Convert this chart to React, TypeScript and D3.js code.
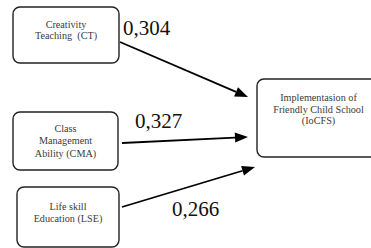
import { useEffect, useRef } from "react";
import * as d3 from "d3";

const sourceLabels: string[][] = [
  ["Creativity", "Teaching  (CT)"],
  ["Class", "Management", "Ability (CMA)"],
  ["Life skill", "Education (LSE)"],
];
const targetLabel: string[] = ["Implementasion of", "Friendly Child School", "(IoCFS)"];
const coefficients: string[] = ["0,304", "0,327", "0,266"];

const W = 371;
const H = 248;

// layout of the boxes and arrows (pixels)
const sourceBoxes = [
  { x: 13, y: 7, w: 106, h: 56, textY: 28, lh: 11 },
  { x: 13, y: 112, w: 105, h: 58, textY: 132, lh: 12.3 },
  { x: 17, y: 187, w: 102, h: 60, textY: 210, lh: 12 },
];
const targetBox = { x: 257, y: 79, w: 140, h: 78, textY: 101, lh: 11.5 };
const arrows = [
  { from: [120, 42], to: [248, 97] },
  { from: [122, 143], to: [248, 137] },
  { from: [122, 207], to: [255, 167] },
];
const labelPos = [
  [123, 35],
  [135, 128],
  [172, 216],
];

const App = () => {
  const svgRef = useRef<SVGSVGElement>(null);

  useEffect(() => {
    if (!svgRef.current) return;
    const svg = d3.select(svgRef.current);
    svg.selectAll("*").remove();

    const font = "Liberation Serif";

    const drawBox = (
      b: { x: number; y: number; w: number; h: number; textY: number; lh: number },
      lines: string[]
    ) => {
      svg
        .append("rect")
        .attr("x", b.x)
        .attr("y", b.y)
        .attr("width", b.w)
        .attr("height", b.h)
        .attr("rx", 7)
        .attr("fill", "#fff")
        .attr("stroke", "#222")
        .attr("stroke-width", 1.4);
      svg
        .append("g")
        .selectAll("text")
        .data(lines)
        .join("text")
        .attr("x", b.x + Math.min(b.w, 123) / 2)
        .attr("y", (_, i) => b.textY + i * b.lh)
        .attr("text-anchor", "middle")
        .attr("font-family", font)
        .attr("font-size", 10.2)
        .attr("fill", "#3a3a3a")
        .style("white-space", "pre")
        .text((d) => d);
    };

    sourceBoxes.forEach((b, i) => drawBox(b, sourceLabels[i]));
    drawBox(targetBox, targetLabel);

    // arrows
    const headLen = 13;
    const headHalf = 5;
    arrows.forEach(({ from, to }) => {
      const [x1, y1] = from;
      const [x2, y2] = to;
      const ang = Math.atan2(y2 - y1, x2 - x1);
      const bx = x2 - headLen * Math.cos(ang);
      const by = y2 - headLen * Math.sin(ang);
      svg
        .append("line")
        .attr("x1", x1)
        .attr("y1", y1)
        .attr("x2", bx)
        .attr("y2", by)
        .attr("stroke", "#000")
        .attr("stroke-width", 1.8);
      const px = -Math.sin(ang) * headHalf;
      const py = Math.cos(ang) * headHalf;
      svg
        .append("path")
        .attr("d", `M${x2},${y2}L${bx + px},${by + py}L${bx - px},${by - py}Z`)
        .attr("fill", "#000");
    });

    svg
      .append("g")
      .selectAll("text")
      .data(coefficients)
      .join("text")
      .attr("x", (_, i) => labelPos[i][0])
      .attr("y", (_, i) => labelPos[i][1])
      .attr("font-family", font)
      .attr("font-size", 21)
      .attr("fill", "#111")
      .text((d) => d);
  }, []);

  return (
    <svg
      ref={svgRef}
      width={W}
      height={H}
      style={{ position: "absolute", left: 0, top: 0, background: "#fff" }}
    />
  );
};

export default App;
